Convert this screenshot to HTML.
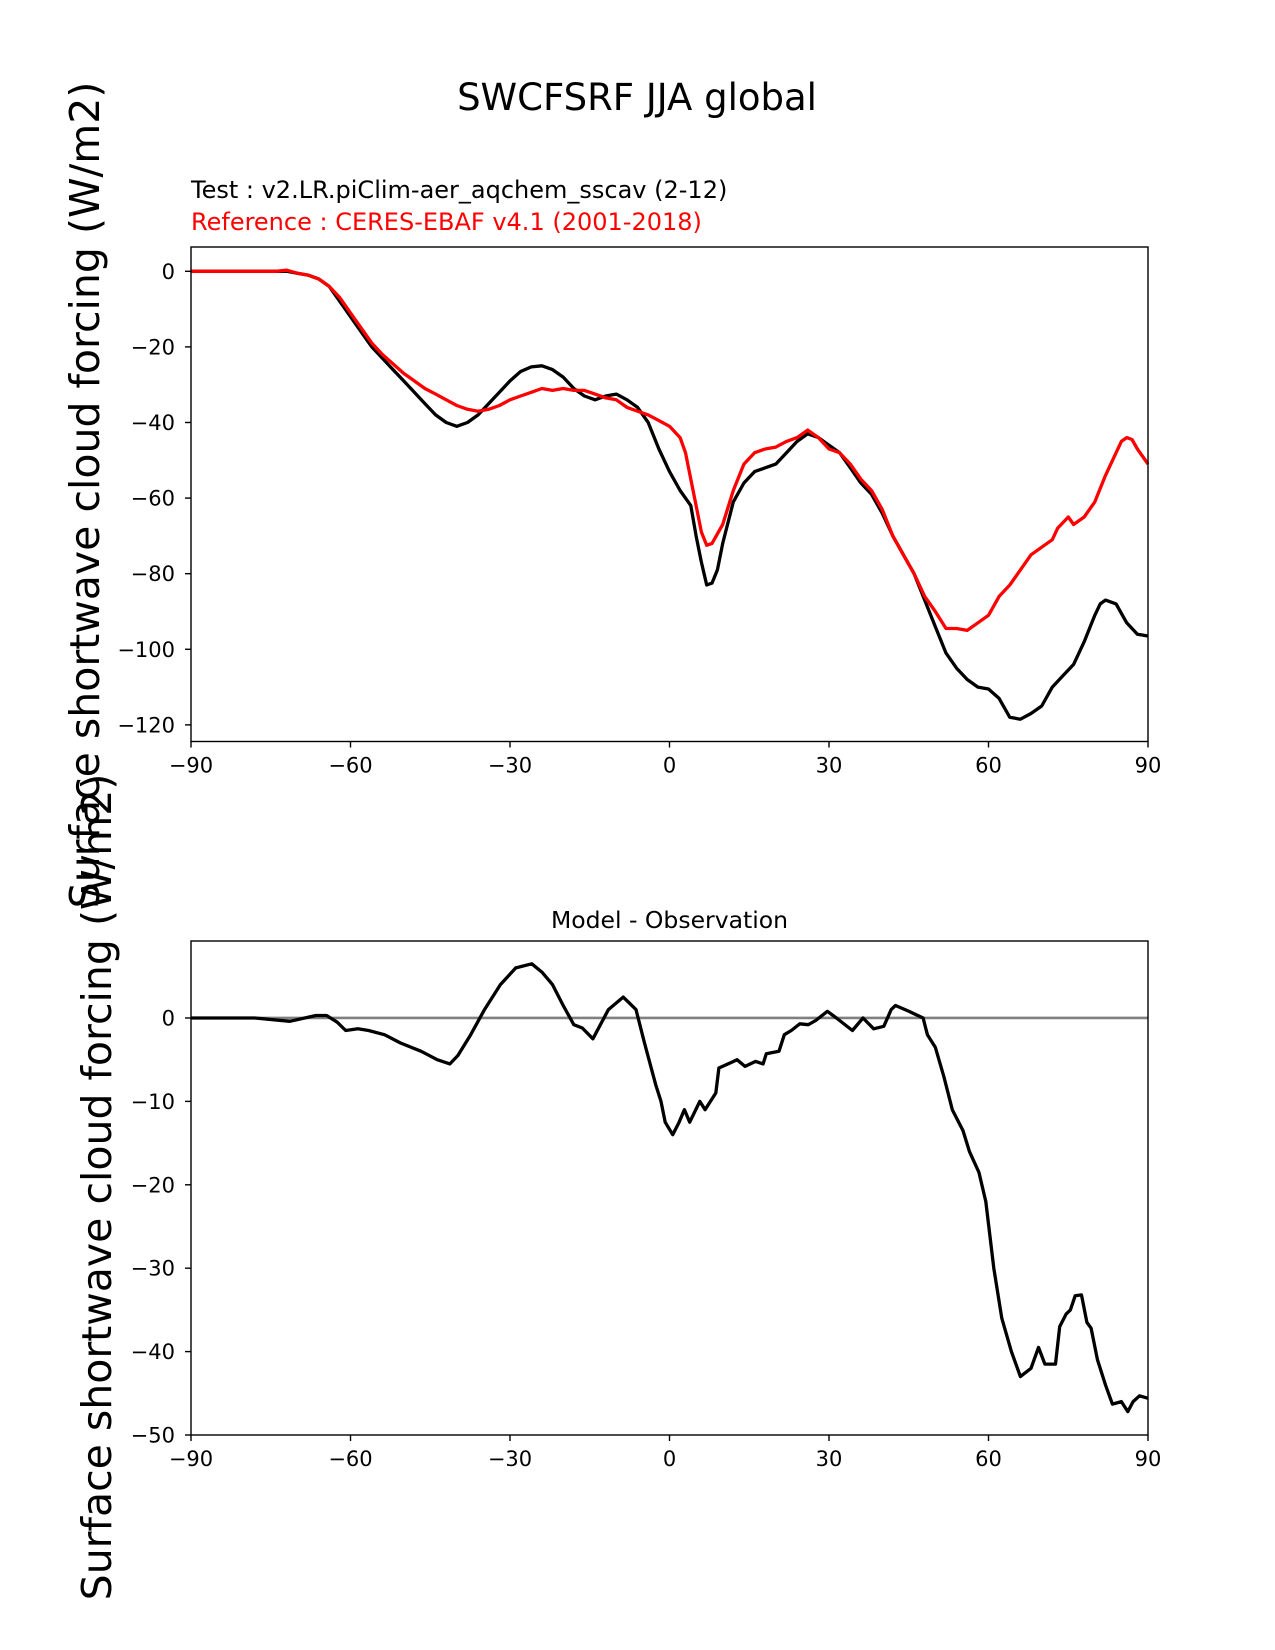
<!DOCTYPE html>
<html><head><meta charset="utf-8">
<style>
html,body{margin:0;padding:0;background:#fff;}
svg{display:block;font-family:"DejaVu Sans","Liberation Sans",sans-serif;}
</style></head>
<body>
<svg id="chart" width="1275" height="1650" viewBox="0 0 1275 1650">
<text x="637" y="110" font-size="37" text-anchor="middle">SWCFSRF JJA global</text>
<text x="191" y="198" font-size="24">Test : v2.LR.piClim-aer_aqchem_sscav (2-12)</text>
<text x="191" y="230" font-size="24" fill="#ff0000">Reference : CERES-EBAF v4.1 (2001-2018)</text>
<text transform="translate(99,495) rotate(-90)" font-size="41" text-anchor="middle">Surface shortwave cloud forcing (W/m2)</text>
<text x="669.5" y="928" font-size="23.5" text-anchor="middle">Model - Observation</text>
<text transform="translate(111,1187) rotate(-90)" font-size="41" text-anchor="middle">Surface shortwave cloud forcing (W/m2)</text>
<g id="top"></g>
<g id="bot"></g>
</svg>
<script>
const xTicks=[-90,-60,-30,0,30,60,90];
const topYTicks=[0,-20,-40,-60,-80,-100,-120];
const botYTicks=[0,-10,-20,-30,-40,-50];
const testLat=[-90,-72,-70,-68,-66,-64,-62,-60,-58,-56,-54,-52,-50,-48,-46,-44,-42,-40,-38,-36,-34,-32,-30,-28,-26,-24,-22,-20,-18,-16,-14,-12,-10,-8,-6,-4,-2,0,2,4,5,6,7,8,9,10,12,14,16,18,20,22,24,26,28,30,32,34,36,38,40,42,44,46,48,50,52,54,56,58,60,62,64,66,68,70,72,74,76,78,80,81,82,84,86,88,90];
const testVal=[0,0,-0.5,-1,-2,-4,-8,-12,-16,-20,-23,-26,-29,-32,-35,-38,-40,-41,-40,-38,-35,-32,-29,-26.5,-25.3,-25,-26,-28,-31,-33,-34,-33,-32.5,-34,-36,-40,-47,-53,-58,-62,-70,-77,-83,-82.5,-79,-72,-61,-56,-53,-52,-51,-48,-45,-43,-44,-46,-48,-52,-56,-59,-64,-70,-75,-80,-87,-94,-101,-105,-108,-110,-110.5,-113,-118,-118.5,-117,-115,-110,-107,-104,-98,-91,-88,-87,-88,-93,-96,-96.5];
const refLat=[-90,-74,-72,-70,-68,-66,-64,-62,-60,-58,-56,-54,-52,-50,-48,-46,-44,-42,-40,-38,-36,-34,-32,-30,-28,-26,-24,-22,-20,-18,-16,-14,-12,-10,-8,-6,-4,-2,0,2,3,4,5,6,7,8,10,12,14,16,18,20,22,24,26,28,30,32,34,36,38,40,42,44,46,48,50,52,54,56,58,60,62,64,66,68,70,72,73,75,76,78,80,82,84,85,86,87,88,89,90];
const refVal=[0,0,0.3,-0.5,-1,-2,-4,-7,-11,-15,-19,-22,-24.5,-27,-29,-31,-32.5,-34,-35.5,-36.5,-37,-36.5,-35.5,-34,-33,-32,-31,-31.5,-31,-31.5,-31.5,-32.5,-33.5,-34,-36,-37,-38,-39.5,-41,-44,-48,-55,-62,-69,-72.5,-72,-67,-58,-51,-48,-47,-46.5,-45,-44,-42,-44,-47,-48,-51,-55,-58,-63,-70,-75,-80,-86,-90,-94.5,-94.5,-95,-93,-91,-86,-83,-79,-75,-73,-71,-68,-65,-67,-65,-61,-54,-48,-45,-44,-44.5,-47,-49,-51];
const diffLat=[-90,-78,-71.4,-66.5,-64.5,-62.5,-60.9,-58.6,-56.6,-53.6,-50.6,-46.7,-43.7,-41.3,-39.8,-37.4,-34.8,-31.8,-28.9,-25.9,-24,-22,-20,-18,-16.4,-14.4,-11.5,-8.7,-6.3,-4.7,-2.6,-1.6,-0.8,0.6,1.8,2.8,3.8,5.7,6.7,8.7,9.3,11.7,12.7,14.2,16.2,17.6,18.2,20.6,21.6,22.9,24.5,26.1,27.5,29.7,31.4,34.4,36.4,38.4,40.3,41.7,42.5,45,47,47.7,48.5,50,51.6,53.2,55.2,56.4,58.2,59.5,61,62.5,64.3,66,68,69.4,70.6,72.6,73.4,74.6,75.4,76.3,77.5,78.5,79.3,80.5,82,83.3,85,86.2,87.2,88.4,90];
const diffVal=[0,0,-0.4,0.3,0.3,-0.5,-1.5,-1.3,-1.5,-2,-3,-4,-5,-5.5,-4.5,-2,1,4,6,6.5,5.5,4,1.5,-0.8,-1.2,-2.5,1,2.5,1,-3,-8,-10,-12.5,-14,-12.5,-11,-12.5,-10,-11,-9,-6,-5.3,-5,-5.8,-5.2,-5.5,-4.3,-4,-2,-1.5,-0.7,-0.8,-0.3,0.8,0,-1.5,0,-1.3,-1,1,1.5,0.8,0.2,0,-2,-3.5,-7,-11,-13.5,-16,-18.5,-22,-30,-36,-40,-43,-42,-39.5,-41.5,-41.5,-37,-35.5,-35,-33.3,-33.2,-36.5,-37.2,-41,-44,-46.3,-46,-47.2,-46,-45.3,-45.6];

const NS='http://www.w3.org/2000/svg';
function mk(p,t,a){const e=document.createElementNS(NS,t);for(const k in a)e.setAttribute(k,a[k]);p.appendChild(e);return e;}
const X0=191,X1=1148;
function xs(v){return X0+(v+90)/180*(X1-X0);}
function panel(g,top,bot,ymax,ymin,yTicks,prefix){
  const ys=v=>top+(ymax-v)/(ymax-ymin)*(bot-top);
  xTicks.forEach(t=>{
    const l=mk(g,'line',{x1:xs(t),x2:xs(t),y1:bot,y2:bot+6,stroke:'#000','stroke-width':1.4});
    
    
    const tx=mk(g,'text',{x:xs(t),y:bot+31,'font-size':21,'text-anchor':'middle'});
    tx.textContent=(t<0?'\u2212'+(-t):t);
    
    
  });
  yTicks.forEach(t=>{
    const l=mk(g,'line',{x1:X0-6,x2:X0,y1:ys(t),y2:ys(t),stroke:'#000','stroke-width':1.4});
    
    
    const tx=mk(g,'text',{x:X0-16,y:ys(t)+7.5,'font-size':21,'text-anchor':'end'});
    tx.textContent=(t<0?'\u2212'+(-t):t);
    
    
  });
  return ys;
}
function line(g,ys,lat,val,color,name){
  const d=lat.map((v,i)=>(i?'L':'M')+xs(v).toFixed(1)+','+ys(val[i]).toFixed(1)).join(' ');
  const p=mk(g,'path',{d:d,fill:'none',stroke:color,'stroke-width':3.3,'stroke-linejoin':'round'});
  
  
}
function frame(g,top,bot,name){
  const r=mk(g,'rect',{x:X0,y:top,width:X1-X0,height:bot-top,fill:'none',stroke:'#000','stroke-width':1.4});
  
  
}
const gt=document.getElementById('top');
const yt=panel(gt,247,741.5,6.43,-124.4,topYTicks,'top');
line(gt,yt,testLat,testVal,'#000','test-line');
line(gt,yt,refLat,refVal,'#ff0000','reference-line');
frame(gt,247,741.5,'top-axes-frame');
const gb=document.getElementById('bot');
const yb=panel(gb,941,1435,9.23,-50,botYTicks,'bottom');
const z=mk(gb,'line',{x1:X0,x2:X1,y1:yb(0),y2:yb(0),stroke:'#808080','stroke-width':2.6});


line(gb,yb,diffLat,diffVal,'#000','difference-line');
frame(gb,941,1435,'bottom-axes-frame');
</script>
</body></html>
